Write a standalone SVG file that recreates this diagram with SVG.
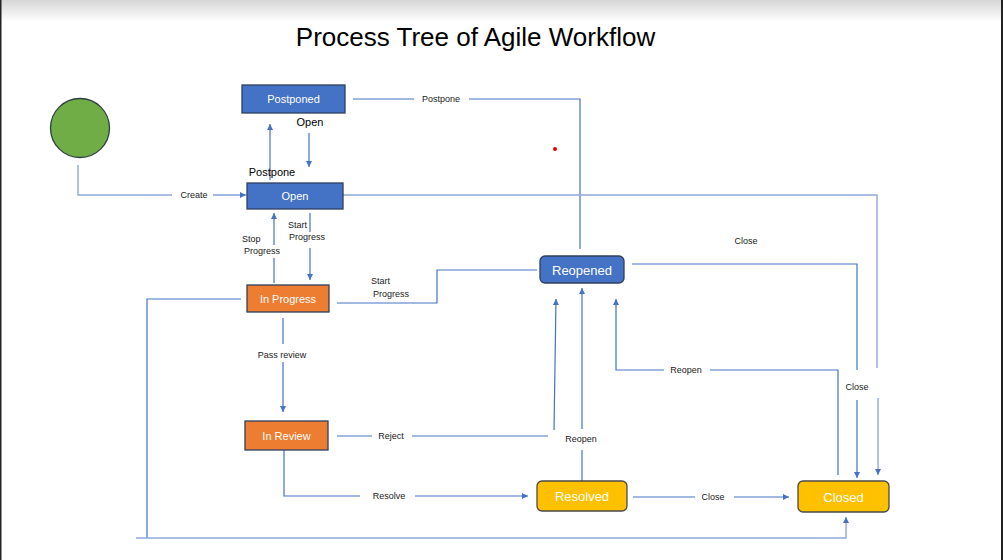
<svg xmlns="http://www.w3.org/2000/svg" width="1003" height="560" viewBox="0 0 1003 560">
<defs>
<linearGradient id="topfade" x1="0" y1="0" x2="0" y2="1">
<stop offset="0" stop-color="#d6d6d6"/>
<stop offset="1" stop-color="#ffffff"/>
</linearGradient>
<marker id="arr" viewBox="0 0 10 10" refX="10" refY="5" markerWidth="6" markerHeight="6" markerUnits="userSpaceOnUse" orient="auto">
<path d="M0,0 L10,5 L0,10 z" fill="#4472C4"/>
</marker>
</defs>
<style>
.ln{fill:none;stroke:#4472C4;stroke-width:1.2}
.lt{fill:none;stroke:#8EA9DB;stroke-width:1.4}
.bx{fill:#4472C4;stroke:#2F3F5F;stroke-width:1.3}
.or{fill:#ED7D31;stroke:#2F3F5F;stroke-width:1.3}
.ye{fill:#FFC000;stroke:#4A4A4A;stroke-width:1.3}
.nt{font-family:"Liberation Sans",Arial,sans-serif;fill:#ffffff;text-anchor:middle}
.lb{font-family:"Liberation Sans",Arial,sans-serif;font-size:9px;fill:#1a1a1a}
.lbm{font-family:"Liberation Sans",Arial,sans-serif;font-size:11px;fill:#000000}
.c{text-anchor:middle}
</style>
<rect x="0" y="0" width="1003" height="560" fill="#ffffff"/>
<rect x="0" y="0" width="1003" height="22" fill="url(#topfade)"/>
<rect x="0" y="0" width="1.5" height="560" fill="#222222"/>
<rect x="1001" y="0" width="2" height="560" fill="#222222"/>

<text x="475.5" y="46" font-family="'Liberation Sans',Arial,sans-serif" font-size="26" fill="#000" text-anchor="middle">Process Tree of Agile Workflow</text>

<circle cx="555" cy="149" r="2" fill="#e00000"/>

<g id="connectors">
<!-- Create -->
<path class="lt" d="M78,165 V195 H172"/>
<path class="ln" d="M213,195 H246" marker-end="url(#arr)"/>
<text class="lb c" x="194" y="198">Create</text>
<!-- Open -> Postponed -->
<path class="ln" d="M270,180 V124" marker-end="url(#arr)"/>
<text class="lbm c" x="272" y="176">Postpone</text>
<!-- Postponed -> Open -->
<path class="ln" d="M309,133 V167" marker-end="url(#arr)"/>
<text class="lbm c" x="310" y="126">Open</text>
<!-- Postponed -> Reopened -->
<path class="ln" d="M353,99 H414"/>
<path class="ln" d="M469,99 H580 V249"/>
<text class="lb c" x="441" y="102">Postpone</text>
<!-- Open -> Closed -->
<path class="lt" d="M343,195 H877 V368"/>
<path class="lt" d="M878,398 V475" marker-end="url(#arr)"/>
<!-- Open -> In Progress -->
<path class="ln" d="M310,213 V232"/>
<path class="ln" d="M310,248 V280" marker-end="url(#arr)"/>
<text class="lb" x="288" y="228">Start</text>
<text class="lb" x="289" y="240">Progress</text>
<!-- In Progress -> Open -->
<path class="ln" d="M274,283 V258"/>
<path class="ln" d="M274,245 V213" marker-end="url(#arr)"/>
<text class="lb" x="242" y="242">Stop</text>
<text class="lb" x="244" y="254">Progress</text>
<!-- In Progress -> Reopened -->
<path class="ln" d="M337,303 H437 V270 H537"/>
<text class="lb" x="371" y="284">Start</text>
<text class="lb" x="373" y="297">Progress</text>
<!-- Reopened -> Closed -->
<path class="ln" d="M632,264 H857 V370"/>
<path class="ln" d="M857,400 V478" marker-end="url(#arr)"/>
<text class="lb c" x="746" y="244">Close</text>
<text class="lb c" x="857" y="390">Close</text>
<!-- Closed -> Reopened -->
<path class="ln" d="M838,475 V370 H710"/>
<path class="ln" d="M664,370 H616 V299" marker-end="url(#arr)"/>
<text class="lb c" x="686" y="373">Reopen</text>
<!-- In Progress -> Closed -->
<path class="ln" d="M241,299 H147 V538"/>
<path class="lt" d="M136,538 H846 V517" marker-end="url(#arr)"/>
<!-- In Progress -> In Review -->
<path class="ln" d="M283,318 V344"/>
<path class="ln" d="M283,362 V412" marker-end="url(#arr)"/>
<text class="lb c" x="282" y="358">Pass review</text>
<!-- In Review -> Reopened -->
<path class="ln" d="M337,436 H372"/>
<path class="ln" d="M412,436 H548"/>
<path class="ln" d="M554,430 L556,299" marker-end="url(#arr)"/>
<text class="lb c" x="391" y="439">Reject</text>
<!-- Resolved -> Reopened -->
<path class="ln" d="M582,481 V450"/>
<path class="ln" d="M582,429 V288" marker-end="url(#arr)"/>
<text class="lb c" x="581" y="442">Reopen</text>
<!-- In Review -> Resolved -->
<path class="ln" d="M284,450 V496 H360"/>
<path class="ln" d="M415,496 H528" marker-end="url(#arr)"/>
<text class="lb c" x="389" y="499">Resolve</text>
<!-- Resolved -> Closed -->
<path class="ln" d="M633,497 H695"/>
<path class="ln" d="M734,497 H789" marker-end="url(#arr)"/>
<text class="lb c" x="713" y="500">Close</text>
</g>

<g id="start">
<circle cx="80" cy="128" r="29.5" fill="#70AD47" stroke="#2F3F3F" stroke-width="1.3"/>
</g>
<g id="postponed">
<rect class="bx" x="242" y="85" width="103" height="28"/>
<text class="nt" x="293.5" y="103" font-size="11">Postponed</text>
</g>
<g id="open">
<rect class="bx" x="247" y="183" width="96" height="26"/>
<text class="nt" x="295" y="200" font-size="11">Open</text>
</g>
<g id="inprogress">
<rect class="or" x="247" y="285" width="82" height="27"/>
<text class="nt" x="288" y="302.5" font-size="11">In Progress</text>
</g>
<g id="inreview">
<rect class="or" x="245" y="421" width="83" height="29"/>
<text class="nt" x="286.5" y="439.5" font-size="11">In Review</text>
</g>
<g id="reopened">
<rect class="bx" x="540" y="256" width="84" height="27" rx="5"/>
<text class="nt" x="582" y="274.5" font-size="13">Reopened</text>
</g>
<g id="resolved">
<rect class="ye" x="537" y="481" width="90" height="30" rx="5"/>
<text class="nt" x="582" y="501" font-size="13">Resolved</text>
</g>
<g id="closed">
<rect class="ye" x="798" y="481" width="91" height="31" rx="5"/>
<text class="nt" x="843.5" y="501.5" font-size="13">Closed</text>
</g>
</svg>
